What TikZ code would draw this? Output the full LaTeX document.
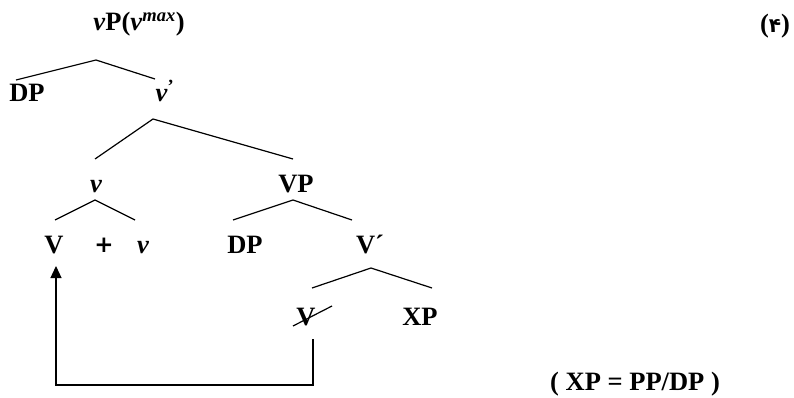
\documentclass[tikz,border=0pt]{standalone}
\usepackage{fontspec}
\setmainfont{Liberation Serif}
\newfontfamily\arabicfont[Script=Arabic]{DejaVu Sans}
\newfontfamily\plusfont{DejaVu Sans}
\usetikzlibrary{arrows.meta}
\tikzset{
  lbl/.style={font=\fontsize{26.5}{30}\selectfont\bfseries, inner sep=0pt, anchor=base},
  branch/.style={line width=1.2pt},
  move/.style={line width=1.2pt, -{Triangle[length=12pt,width=11pt]}},
}
\begin{document}
\begin{tikzpicture}[x=1pt,y=-1pt]
\useasboundingbox (0,0) rectangle (794,398);
% labels
\node[lbl] (top) at (139,31) {\textit{v}P(\textit{v}\textsuperscript{\textit{max}})};
\node[lbl] (dp1) at (27,102) {DP};
\node[lbl] (vbar) at (165,102) {\textit{v}\textsuperscript{’}};
\node[lbl] (vsmall) at (96,193) {\textit{v}};
\node[lbl] (vp) at (296,193) {VP};
\node[lbl] (V) at (54,253) {V};
\node[lbl] (plus) at (104,252) {{\plusfont\bfseries\fontsize{23}{26}\selectfont +}};
\node[lbl] (vlow) at (143,253) {\textit{v}};
\node[lbl] (dp2) at (245,253) {DP};
\node[lbl] (vprime) at (370,253) {V´};
\node[lbl] (Vtrace) at (306,325) {V};
\node[lbl] (xp) at (420,325) {XP};
\node[lbl] (ref) at (635,390) {( XP = PP/DP )};
\node[lbl] (num) at (775,33) {({\arabicfont\fontsize{20}{24}\selectfont ۴})};
% branch coordinates
\coordinate (a1) at (96,60);  \coordinate (l1) at (16,80);  \coordinate (r1) at (155,79);
\coordinate (a2) at (153,119); \coordinate (l2) at (95,159); \coordinate (r2) at (293,159);
\coordinate (a3) at (95,200); \coordinate (l3) at (55,220); \coordinate (r3) at (135,220);
\coordinate (a4) at (293,200); \coordinate (l4) at (233,220); \coordinate (r4) at (352,220);
\coordinate (a5) at (371,268); \coordinate (l5) at (312,288); \coordinate (r5) at (432,288);
\draw[branch] (l1) -- (a1) -- (r1);
\draw[branch] (l2) -- (a2) -- (r2);
\draw[branch] (l3) -- (a3) -- (r3);
\draw[branch] (l4) -- (a4) -- (r4);
\draw[branch] (l5) -- (a5) -- (r5);
% strike through trace
\coordinate (s1) at (293,326); \coordinate (s2) at (332,306);
\draw[branch] (s1) -- (s2);
% movement arrow
\coordinate (m1) at (313,339);
\coordinate (m2) at (313,385);
\coordinate (m3) at (56,385);
\coordinate (m4) at (56,266);
\draw[move] (m1) -- (m2) -- (m3) -- (m4);
\end{tikzpicture}
\end{document}
